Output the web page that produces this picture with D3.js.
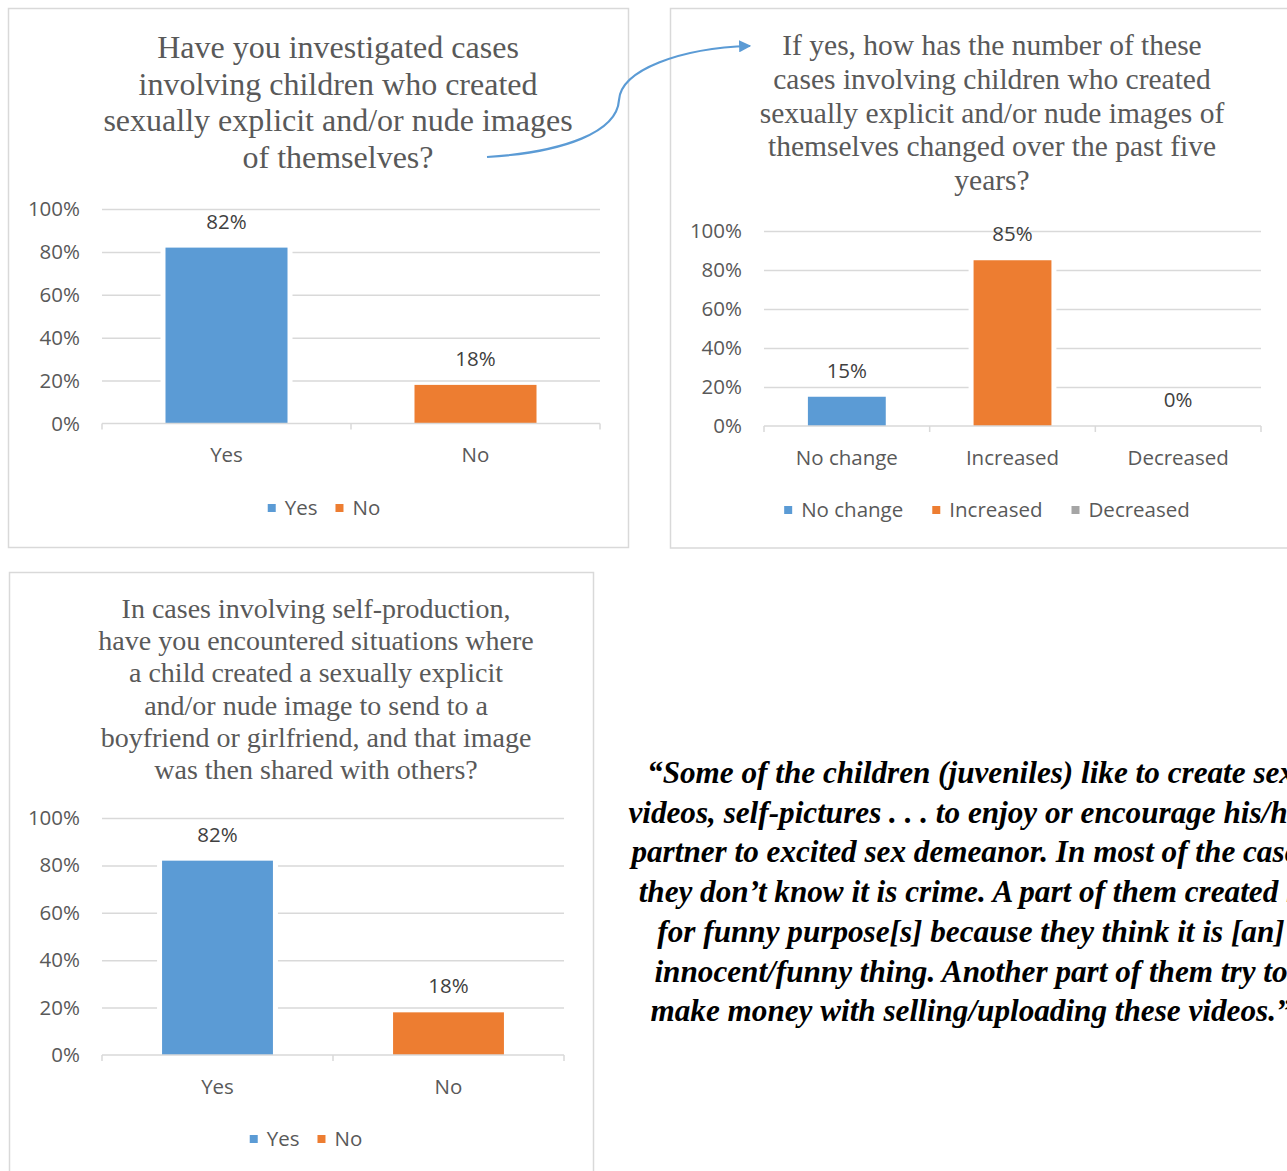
<!DOCTYPE html>
<html>
<head>
<meta charset="utf-8">
<script src="https://cdn.jsdelivr.net/npm/d3@7"></script>
<style>
  html, body { margin: 0; padding: 0; background: #ffffff; overflow: hidden; }
  svg { display: block; }
</style>
</head>
<body>
<svg id="page" width="1287" height="1171"></svg>
<script>
// ---- Data ----
const yTicks = [0, 20, 40, 60, 80, 100];

const chart1Title = [
  "Have you investigated cases",
  "involving children who created",
  "sexually explicit and/or nude images",
  "of themselves?"
];
const chart1Categories = ["Yes", "No"];
const chart1Values = [82, 18];

const chart2Title = [
  "If yes, how has the number of these",
  "cases involving children who created",
  "sexually explicit and/or nude images of",
  "themselves changed over the past five",
  "years?"
];
const chart2Categories = ["No change", "Increased", "Decreased"];
const chart2Values = [15, 85, 0];

const chart3Title = [
  "In cases involving self-production,",
  "have you encountered situations where",
  "a child created a sexually explicit",
  "and/or nude image to send to a",
  "boyfriend or girlfriend, and that image",
  "was then shared with others?"
];
const chart3Categories = ["Yes", "No"];
const chart3Values = [82, 18];

const quoteLines = [
  "\u201CSome of the children (juveniles) like to create sex",
  "videos, self-pictures . . . to enjoy or encourage his/her",
  "partner to excited sex demeanor. In most of the cases",
  "they don\u2019t know it is crime. A part of them created it",
  "for funny purpose[s] because they think it is [an]",
  "innocent/funny thing. Another part of them try to",
  "make money with selling/uploading these videos.\u201D"
];

// ---- Styles ----
const BLUE = "#5b9bd5", ORANGE = "#ed7d31", GRAY = "#a5a5a5";
const TEXT = "#595959", GRID = "#d9d9d9", FRAME = "#d9d9d9";
const SANS = "'Open Sans', 'Noto Sans', sans-serif";
const SERIF = "'Liberation Serif', 'Times New Roman', serif";

const svg = d3.select("#page");
svg.append("rect").attr("width", 1287).attr("height", 1171).attr("fill", "#fff");

function drawChart(spec) {
  const g = svg.append("g");

  // frame
  g.append("rect")
    .attr("x", spec.frame[0]).attr("y", spec.frame[1])
    .attr("width", spec.frame[2]).attr("height", spec.frame[3])
    .attr("fill", "#fff").attr("stroke", FRAME).attr("stroke-width", 1.5);

  // title
  g.append("text")
    .attr("text-anchor", "middle")
    .attr("font-family", SERIF).attr("font-size", spec.titleSize)
    .attr("fill", TEXT)
    .selectAll("tspan").data(spec.title).join("tspan")
    .attr("x", spec.titleX)
    .attr("y", (d, i) => spec.titleY + i * spec.titleStep)
    .text(d => d);

  const x = d3.scaleBand()
    .domain(spec.categories)
    .range([spec.x0, spec.x1])
    .paddingInner(spec.pad)
    .paddingOuter(spec.pad / 2);
  const y = d3.scaleLinear().domain([0, 100]).range([spec.y0, spec.yTop]);

  // gridlines
  const grid = g.append("g")
    .attr("transform", `translate(${spec.x0},0)`)
    .call(d3.axisLeft(y).tickValues(yTicks.filter(t => t > 0))
      .tickSize(-(spec.x1 - spec.x0)).tickFormat(""));
  grid.select(".domain").remove();
  grid.selectAll("line").attr("stroke", GRID).attr("stroke-width", 1.5);

  // y tick labels
  const ya = g.append("g")
    .attr("transform", `translate(${spec.x0},0)`)
    .call(d3.axisLeft(y).tickValues(yTicks).tickSize(0).tickPadding(22)
      .tickFormat(d => d + "%"));
  ya.select(".domain").remove();
  ya.selectAll("text").attr("font-family", SANS).attr("font-size", 20.5)
    .attr("fill", TEXT);

  const data = spec.categories.map((c, i) => ({ c, v: spec.values[i], color: spec.colors[i] }));

  // white halo separating bars from gridlines
  g.append("g").selectAll("rect").data(data).join("rect")
    .attr("x", d => x(d.c) - 5).attr("width", x.bandwidth() + 10)
    .attr("y", d => y(d.v)).attr("height", d => y(0) - y(d.v))
    .attr("fill", "#fff");

  // bars
  g.append("g").selectAll("rect").data(data).join("rect")
    .attr("x", d => x(d.c)).attr("width", x.bandwidth())
    .attr("y", d => y(d.v)).attr("height", d => y(0) - y(d.v))
    .attr("fill", d => d.color);

  // value labels
  g.append("g").selectAll("text").data(data).join("text")
    .attr("x", d => x(d.c) + x.bandwidth() / 2)
    .attr("y", d => y(d.v) - 19)
    .attr("text-anchor", "middle")
    .attr("font-family", SANS).attr("font-size", 20.5).attr("fill", "#404040")
    .text(d => d.v + "%");

  // category axis
  const xa = g.append("g")
    .attr("transform", `translate(0,${spec.y0})`)
    .call(d3.axisBottom(x).tickSize(0).tickPadding(24));
  xa.select(".domain").remove();
  xa.selectAll("text").attr("font-family", SANS).attr("font-size", 20.5).attr("fill", TEXT);

  g.append("line")
    .attr("x1", spec.x0).attr("x2", spec.x1)
    .attr("y1", spec.y0).attr("y2", spec.y0)
    .attr("stroke", GRID).attr("stroke-width", 1.5);
  const bounds = spec.categories.map(c => x(c) - x.step() * spec.pad / 2).concat([spec.x1]);
  g.append("g").selectAll("line").data(bounds).join("line")
    .attr("x1", d => d).attr("x2", d => d)
    .attr("y1", spec.y0).attr("y2", spec.y0 + 6)
    .attr("stroke", GRID).attr("stroke-width", 1.5);

  // legend
  const items = data.map(d => ({ label: d.c, color: d.color }));
  const lg = g.append("g");
  let cx = 0;
  const placed = items.map(it => {
    const t = lg.append("text").attr("font-family", SANS).attr("font-size", 20.5)
      .attr("fill", TEXT).text(it.label);
    const w = t.node().getComputedTextLength();
    const p = { it, t, x: cx, w };
    cx += 17 + w + spec.legendGap;
    return p;
  });
  const total = cx - spec.legendGap;
  const lx = spec.legendX - total / 2;
  placed.forEach(p => {
    lg.append("rect").attr("x", lx + p.x).attr("y", spec.legendY - 4)
      .attr("width", 8).attr("height", 8).attr("fill", p.it.color);
    p.t.attr("x", lx + p.x + 17).attr("y", spec.legendY + 7);
  });
}

drawChart({
  frame: [8.5, 8.5, 620, 539],
  title: chart1Title, titleX: 338, titleY: 58, titleStep: 36.6, titleSize: 32,
  categories: chart1Categories, values: chart1Values, colors: [BLUE, ORANGE],
  x0: 102, x1: 600, y0: 423.5, yTop: 209, pad: 0.51,
  legendX: 324, legendY: 508, legendGap: 18
});

drawChart({
  frame: [670.5, 8.5, 640, 539.5],
  title: chart2Title, titleX: 992, titleY: 55, titleStep: 33.8, titleSize: 29.5,
  categories: chart2Categories, values: chart2Values, colors: [BLUE, ORANGE, GRAY],
  x0: 764, x1: 1261, y0: 426, yTop: 231, pad: 0.53,
  legendX: 987, legendY: 510, legendGap: 29
});

drawChart({
  frame: [9.5, 572.5, 584, 640],
  title: chart3Title, titleX: 316, titleY: 618, titleStep: 32.2, titleSize: 28,
  categories: chart3Categories, values: chart3Values, colors: [BLUE, ORANGE],
  x0: 102, x1: 564, y0: 1055, yTop: 818, pad: 0.52,
  legendX: 306, legendY: 1139, legendGap: 18
});

// connector arrow from the first question to the follow-up question
svg.append("defs").append("marker")
  .attr("id", "arrowHead").attr("viewBox", "0 0 10 10")
  .attr("refX", 9).attr("refY", 5)
  .attr("markerWidth", 5.5).attr("markerHeight", 5.5)
  .attr("markerUnits", "strokeWidth").attr("orient", "auto")
  .append("path").attr("d", "M0,0 L10,5 L0,10 Z").attr("fill", BLUE);

const arrowPath = d3.path();
arrowPath.moveTo(487, 157);
arrowPath.bezierCurveTo(565, 152, 617, 132, 619, 100);
arrowPath.bezierCurveTo(621, 70, 680, 48, 750, 46);
svg.append("path")
  .attr("d", arrowPath.toString())
  .attr("fill", "none").attr("stroke", BLUE).attr("stroke-width", 2.2)
  .attr("marker-end", "url(#arrowHead)");

// quotation
svg.append("text")
  .attr("text-anchor", "middle")
  .attr("font-family", SERIF).attr("font-size", 31.2)
  .attr("font-weight", "bold").attr("font-style", "italic")
  .attr("fill", "#000")
  .selectAll("tspan").data(quoteLines).join("tspan")
  .attr("x", 971)
  .attr("y", (d, i) => 783 + i * 39.7)
  .text(d => d);
</script>
</body>
</html>
